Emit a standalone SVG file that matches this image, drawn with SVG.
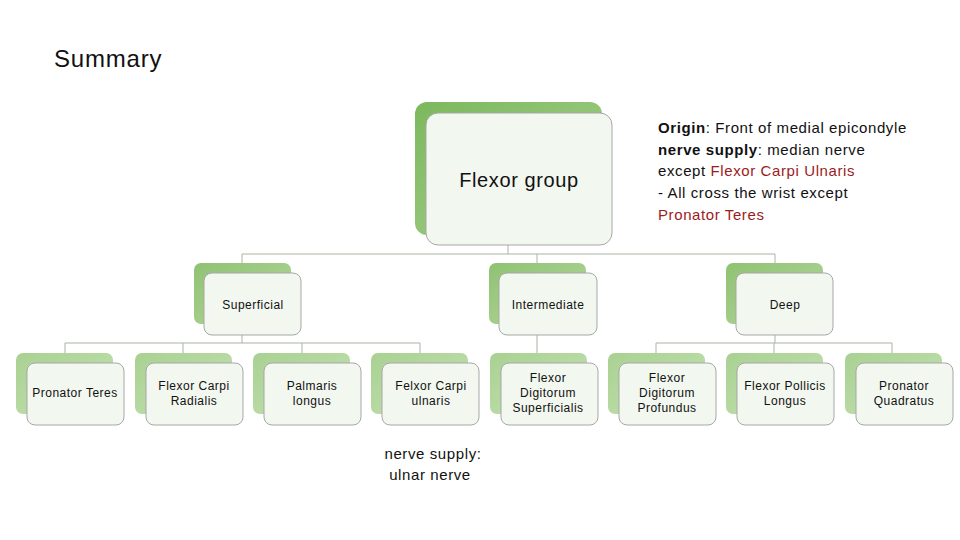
<svg xmlns="http://www.w3.org/2000/svg" width="960" height="540" viewBox="0 0 960 540">
<defs>
<linearGradient id="gTop" x1="0" y1="0" x2="1" y2="1">
<stop offset="0" stop-color="#7cb85c"/>
<stop offset="1" stop-color="#a9d190"/>
</linearGradient>
<linearGradient id="gMid" x1="0" y1="0" x2="1" y2="1">
<stop offset="0" stop-color="#8fc272"/>
<stop offset="1" stop-color="#b6d8a0"/>
</linearGradient>
<linearGradient id="gLow" x1="0" y1="0" x2="1" y2="1">
<stop offset="0" stop-color="#a9d192"/>
<stop offset="1" stop-color="#c5e1b3"/>
</linearGradient>
<style>
.front{fill:#f2f7ef;stroke:#a7a7a7;stroke-width:1}
.conn{fill:none;stroke:#a9b3a3;stroke-width:1}
.t{font-family:"Liberation Sans",Arial,sans-serif;fill:#111;text-anchor:middle}
.s{font-size:12px;letter-spacing:0.5px}
.info{font-family:"Liberation Sans",Arial,sans-serif;font-size:15px;letter-spacing:0.6px;fill:#111}
.red{fill:#9b1c1c}
</style>
</defs>
<rect width="960" height="540" fill="#ffffff"/>
<text x="54" y="67" font-family="Liberation Sans, Arial, sans-serif" font-size="24" letter-spacing="0.8" fill="#111">Summary</text>

<g id="connectors">
<path class="conn" d="M508 245V254M242 254H775M242 254V263M537 254V263M775 254V263"/>
<path class="conn" d="M242 335V343M65 343H420M65 343V353M183 343V353M302 343V353M420 343V353"/>
<path class="conn" d="M537 335V353"/>
<path class="conn" d="M775 335V343M656 343H892M656 343V353M774 343V353M892 343V353"/>
</g>

<g id="flexor-group">
<rect x="415" y="102" width="187" height="133" rx="12" fill="url(#gTop)"/>
<rect class="front" x="426" y="113" width="186" height="132" rx="12"/>
<text class="t" x="519" y="187" font-size="20" letter-spacing="0.6">Flexor group</text>
</g>

<g id="info">
<text class="info" x="658" y="133"><tspan font-weight="bold">Origin</tspan>: Front of medial epicondyle</text>
<text class="info" x="658" y="155"><tspan font-weight="bold">nerve supply</tspan>: median nerve</text>
<text class="info" x="658" y="176">except <tspan class="red">Flexor Carpi Ulnaris</tspan></text>
<text class="info" x="658" y="198">- All cross the wrist except</text>
<text class="info red" x="658" y="220">Pronator Teres</text>
</g>

<g id="superficial">
<rect x="194" y="263" width="97" height="61" rx="7" fill="url(#gMid)"/>
<rect class="front" x="204" y="273" width="97" height="62" rx="8"/>
<text class="t s" x="253" y="309">Superficial</text>
</g>
<g id="intermediate">
<rect x="489" y="263" width="97" height="61" rx="7" fill="url(#gMid)"/>
<rect class="front" x="499" y="273" width="98" height="62" rx="8"/>
<text class="t s" x="548" y="309">Intermediate</text>
</g>
<g id="deep">
<rect x="726" y="263" width="97" height="61" rx="7" fill="url(#gMid)"/>
<rect class="front" x="736" y="273" width="97" height="62" rx="8"/>
<text class="t s" x="785" y="309">Deep</text>
</g>

<g id="pronator-teres">
<rect x="16" y="353" width="97" height="61" rx="7" fill="url(#gLow)"/>
<rect class="front" x="27" y="363" width="97" height="62" rx="8"/>
<text class="t s" x="75" y="397">Pronator Teres</text>
</g>
<g id="flexor-carpi-radialis">
<rect x="135" y="353" width="97" height="61" rx="7" fill="url(#gLow)"/>
<rect class="front" x="146" y="363" width="97" height="62" rx="8"/>
<text class="t s" x="194" y="390">Flexor Carpi</text>
<text class="t s" x="194" y="405">Radialis</text>
</g>
<g id="palmaris-longus">
<rect x="253" y="353" width="97" height="61" rx="7" fill="url(#gLow)"/>
<rect class="front" x="264" y="363" width="97" height="62" rx="8"/>
<text class="t s" x="312" y="390">Palmaris</text>
<text class="t s" x="312" y="405">longus</text>
</g>
<g id="felxor-carpi-ulnaris">
<rect x="371" y="353" width="97" height="61" rx="7" fill="url(#gLow)"/>
<rect class="front" x="382" y="363" width="97" height="62" rx="8"/>
<text class="t s" x="431" y="390">Felxor Carpi</text>
<text class="t s" x="431" y="405">ulnaris</text>
</g>
<g id="fds">
<rect x="490" y="353" width="97" height="61" rx="7" fill="url(#gLow)"/>
<rect class="front" x="501" y="363" width="97" height="62" rx="8"/>
<text class="t s" x="548" y="382">Flexor</text>
<text class="t s" x="548" y="397">Digitorum</text>
<text class="t s" x="548" y="412">Superficialis</text>
</g>
<g id="fdp">
<rect x="608" y="353" width="97" height="61" rx="7" fill="url(#gLow)"/>
<rect class="front" x="619" y="363" width="97" height="62" rx="8"/>
<text class="t s" x="667" y="382">Flexor</text>
<text class="t s" x="667" y="397">Digitorum</text>
<text class="t s" x="667" y="412">Profundus</text>
</g>
<g id="fpl">
<rect x="726" y="353" width="97" height="61" rx="7" fill="url(#gLow)"/>
<rect class="front" x="737" y="363" width="97" height="62" rx="8"/>
<text class="t s" x="785" y="390">Flexor Pollicis</text>
<text class="t s" x="785" y="405">Longus</text>
</g>
<g id="pronator-quadratus">
<rect x="845" y="353" width="97" height="61" rx="7" fill="url(#gLow)"/>
<rect class="front" x="856" y="363" width="97" height="62" rx="8"/>
<text class="t s" x="904" y="390">Pronator</text>
<text class="t s" x="904" y="405">Quadratus</text>
</g>

<g id="ulnar-note">
<text class="info" x="433" y="459" text-anchor="middle">nerve supply:</text>
<text class="info" x="430" y="480" text-anchor="middle">ulnar nerve</text>
</g>
</svg>
